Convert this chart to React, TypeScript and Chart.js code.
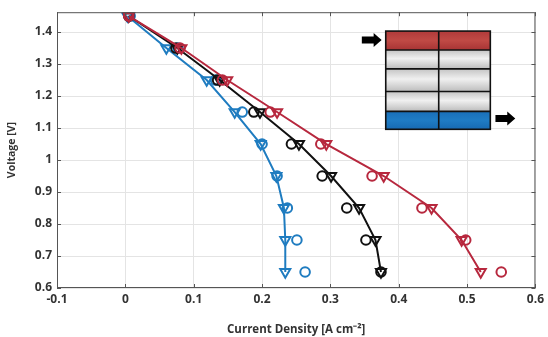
import React, { useEffect, useRef } from "react";
import { Chart, registerables } from "chart.js";

Chart.register(...registerables);

const voltages = [1.45, 1.35, 1.25, 1.15, 1.05, 0.95, 0.85, 0.75, 0.65];

const redTri = [0.005, 0.082, 0.149, 0.222, 0.294, 0.378, 0.448, 0.492, 0.52];
const redCirc = [0.005, 0.08, 0.142, 0.212, 0.286, 0.361, 0.434, 0.498, 0.55];
const blackTri = [0.005, 0.076, 0.138, 0.197, 0.254, 0.301, 0.342, 0.366, 0.374];
const blackCirc = [0.005, 0.074, 0.135, 0.188, 0.243, 0.288, 0.324, 0.352, 0.374];
const blueTri = [0.003, 0.06, 0.119, 0.16, 0.198, 0.221, 0.232, 0.234, 0.234];
const blueCirc = [0.007, 0.077, 0.132, 0.171, 0.2, 0.222, 0.237, 0.251, 0.263];

const xTicks = [-0.1, 0, 0.1, 0.2, 0.3, 0.4, 0.5, 0.6];
const yTicks = [0.6, 0.7, 0.8, 0.9, 1.0, 1.1, 1.2, 1.3, 1.4];

const RED = "#b7283e";
const BLACK = "#111111";
const BLUE = "#1f7cc0";

const pts = (xs: number[]) => xs.map((x, i) => ({ x, y: voltages[i] }));

const frame = {
  id: "frame",
  afterDatasetsDraw(chart: any) {
    const { ctx, chartArea: a } = chart;
    ctx.save();
    ctx.strokeStyle = "#555";
    ctx.lineWidth = 1;
    ctx.strokeRect(a.left + 0.5, a.top + 0.5, a.right - a.left - 1, a.bottom - a.top - 1);
    const xs = chart.scales.x, ys = chart.scales.y;
    ctx.strokeStyle = "#555";
    xTicks.forEach((t) => {
      const p = Math.round(xs.getPixelForValue(t)) + 0.5;
      ctx.beginPath();
      ctx.moveTo(p, a.bottom); ctx.lineTo(p, a.bottom - 4);
      ctx.moveTo(p, a.top); ctx.lineTo(p, a.top + 4);
      ctx.stroke();
    });
    yTicks.forEach((t) => {
      const p = Math.round(ys.getPixelForValue(t)) + 0.5;
      ctx.beginPath();
      ctx.moveTo(a.left, p); ctx.lineTo(a.left + 4, p);
      ctx.moveTo(a.right, p); ctx.lineTo(a.right - 4, p);
      ctx.stroke();
    });

    // inset: stack diagram
    const X = (v: number) => xs.getPixelForValue(v);
    const Y = (v: number) => ys.getPixelForValue(v);
    const x0 = X(0.381), x1 = X(0.4585), x2 = X(0.534);
    const rows = [1.403, 1.344, 1.285, 1.214, 1.152, 1.096].map(Y);
    for (let r = 0; r < 5; r++) {
      const top = rows[r], bot = rows[r + 1];
      const g = ctx.createLinearGradient(0, top, 0, bot);
      if (r === 0) {
        g.addColorStop(0, "#b03a3a");
        g.addColorStop(0.5, "#c04a45");
        g.addColorStop(1, "#a83434");
      } else if (r === 4) {
        g.addColorStop(0, "#1a6fb8");
        g.addColorStop(0.5, "#1f7cc4");
        g.addColorStop(1, "#176ab2");
      } else {
        g.addColorStop(0, "#c4c4c4");
        g.addColorStop(0.45, "#f0f0f0");
        g.addColorStop(1, "#bcbcbc");
      }
      ctx.fillStyle = g;
      ctx.fillRect(x0, top, x2 - x0, bot - top);
    }
    ctx.strokeStyle = "#111";
    ctx.lineWidth = 1.6;
    ctx.strokeRect(x0, rows[0], x2 - x0, rows[5] - rows[0]);
    ctx.beginPath();
    for (let r = 1; r < 5; r++) {
      ctx.moveTo(x0, rows[r]); ctx.lineTo(x2, rows[r]);
    }
    ctx.moveTo(x1, rows[0]); ctx.lineTo(x1, rows[5]);
    ctx.stroke();

    const arrow = (xa: number, xb: number, yc: number) => {
      const L = X(xa), R = X(xb), c = Y(yc);
      const head = 8;
      ctx.fillStyle = "#000";
      ctx.beginPath();
      ctx.moveTo(L, c - 3.5);
      ctx.lineTo(R - head, c - 3.5);
      ctx.lineTo(R - head, c - 7);
      ctx.lineTo(R, c);
      ctx.lineTo(R - head, c + 7);
      ctx.lineTo(R - head, c + 3.5);
      ctx.lineTo(L, c + 3.5);
      ctx.closePath();
      ctx.fill();
    };
    arrow(0.346, 0.375, 1.375);
    arrow(0.5415, 0.5705, 1.13);
    ctx.restore();
  },
};

export default function App() {
  const ref = useRef<HTMLCanvasElement>(null);
  useEffect(() => {
    document.body.style.margin = "0";
    const mk = (label: string, xs: number[], color: string, style: string, line: boolean) => ({
      label,
      data: pts(xs),
      showLine: line,
      borderColor: color,
      backgroundColor: "rgba(255,255,255,0)",
      borderWidth: 2,
      pointStyle: style,
      pointRotation: style === "triangle" ? 180 : 0,
      pointRadius: style === "triangle" ? 5.8 : 4.8,
      pointBorderWidth: 2,
      pointBackgroundColor: "rgba(255,255,255,0)",
      pointBorderColor: color,
    });
    const chart = new Chart(ref.current!, {
      type: "scatter",
      data: {
        datasets: [
          mk("Red fit", redTri, RED, "triangle", true),
          mk("Red", redCirc, RED, "circle", false),
          mk("Black fit", blackTri, BLACK, "triangle", true),
          mk("Black", blackCirc, BLACK, "circle", false),
          mk("Blue fit", blueTri, BLUE, "triangle", true),
          mk("Blue", blueCirc, BLUE, "circle", false),
        ] as any,
      },
      options: {
        animation: false,
        responsive: false,
        maintainAspectRatio: false,
        layout: { padding: { top: 10, right: 10, left: 6, bottom: 0 } },
        plugins: { legend: { display: false }, tooltip: { enabled: false } },
        scales: {
          x: {
            type: "linear",
            min: -0.1,
            max: 0.6,
            afterFit: (s: any) => { s.height = 49; },
            afterBuildTicks: (s: any) => { s.ticks = xTicks.map((v) => ({ value: v })); },
            grid: { color: "#e4e4e4", drawTicks: false },
            border: { display: false },
            ticks: {
              padding: 4,
              color: "#333",
              font: { family: "Open Sans", size: 12, weight: "bold" },
              callback: (v: any) => String(Math.round(Number(v) * 10) / 10),
            },
            title: {
              display: true,
              text: "Current Density [A cm⁻²]",
              color: "#333",
              padding: { top: 2, bottom: 0 },
              font: { family: "Open Sans", size: 11.5, weight: "bold" },
            },
          },
          y: {
            type: "linear",
            min: 0.6,
            max: 1.462,
            afterFit: (s: any) => { s.width = 51; },
            afterBuildTicks: (s: any) => { s.ticks = yTicks.map((v) => ({ value: v })); },
            grid: { color: "#e4e4e4", drawTicks: false },
            border: { display: false },
            ticks: {
              padding: 5,
              color: "#333",
              font: { family: "Open Sans", size: 12, weight: "bold" },
              callback: (v: any) => String(Math.round(Number(v) * 10) / 10),
            },
            title: {
              display: true,
              text: "Voltage [V]",
              color: "#333",
              padding: { top: 0, bottom: 2 },
              font: { family: "Open Sans", size: 10.5, weight: "bold" },
            },
          },
        },
      },
      plugins: [frame],
    } as any);
    return () => chart.destroy();
  }, []);
  return (
    <div style={{ position: "fixed", left: 0, top: 0, width: 548, height: 337, background: "#fff" }}>
      <canvas ref={ref} width={548} height={337} style={{ width: 548, height: 337 }} />
    </div>
  );
}
